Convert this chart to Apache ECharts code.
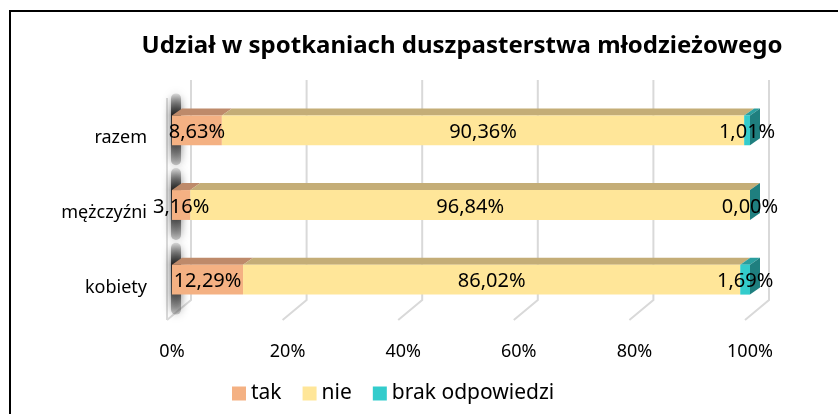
<!DOCTYPE html>
<html>
<head>
<meta charset="utf-8">
<script src="https://cdn.jsdelivr.net/npm/echarts@6/dist/echarts.min.js"></script>
<style>
  html, body { margin: 0; padding: 0; background: #fff; }
  #chart { width: 838px; height: 414px; }
</style>
</head>
<body>
<div id="chart"></div>
<script>
// categories, bottom to top
const categories = ['kobiety', 'mężczyźni', 'razem'];
const tak = [12.29, 3.16, 8.63];
const nie = [86.02, 96.84, 90.36];
const brak = [1.69, 0.00, 1.01];
const xTicks = [0, 20, 40, 60, 80, 100];

const FONT = '"Noto Sans", sans-serif';
const DX = 10, DY = 7; // 3d depth

const chart = echarts.init(document.getElementById('chart'), null, { renderer: 'canvas' });

const fmt = v => v.toFixed(2).replace('.', ',') + '%';

// segment data: [start, value, categoryIndex]
const seg = (vals, prev) => vals.map((v, i) => [prev.reduce((s, a) => s + a[i], 0), v, i]);
const takData = seg(tak, []);
const nieData = seg(nie, [tak]);
const brakData = seg(brak, [tak, nie]);

function barRender(front, top, side) {
  return function (params, api) {
    const start = api.value(0), val = api.value(1), cat = api.value(2);
    const p0 = api.coord([start, cat]);
    const p1 = api.coord([start + val, cat]);
    const h = api.size([0, 1])[1] * 0.4;
    const x0 = p0[0], x1 = p1[0], y0 = p0[1] - h / 2;
    const children = [
      { type: 'polygon', shape: { points: [[x0, y0], [x1, y0], [x1 + DX, y0 - DY], [x0 + DX, y0 - DY]] }, style: { fill: top } },
      { type: 'rect', shape: { x: x0, y: y0, width: x1 - x0, height: h }, style: { fill: front } }
    ];
    if (side) {
      children.push({ type: 'polygon', shape: { points: [[x1, y0], [x1 + DX, y0 - DY], [x1 + DX, y0 - DY + h], [x1, y0 + h]] }, style: { fill: side } });
    }
    return { type: 'group', children };
  };
}

function labelRender(params, api) {
  const start = api.value(0), val = api.value(1), cat = api.value(2);
  const p = api.coord([start + val / 2, cat]);
  return {
    type: 'text',
    style: { x: p[0], y: p[1] + 2, text: fmt(val), fill: '#000', font: '20px ' + FONT, align: 'center', verticalAlign: 'middle' }
  };
}

function gridRender(params, api) {
  const cs = params.coordSys;
  const x = api.coord([api.value(0), 0])[0];
  const top = cs.y - 13, bot = cs.y + cs.height - 17, floor = cs.y + cs.height + 3;
  const bx = x + 19, fx = x - 5;
  const children = [
    { type: 'polyline', shape: { points: [[bx, top], [bx, bot], [fx, floor]] }, style: { stroke: '#D9D9D9', lineWidth: 2, fill: null } }
  ];
  if (api.value(0) === 0) {
    children.push({ type: 'line', shape: { x1: fx, y1: top + 18, x2: fx, y2: floor }, style: { stroke: '#D9D9D9', lineWidth: 2 } });
  }
  return { type: 'group', children };
}

function shadowRender(params, api) {
  const p = api.coord([0, api.value(0)]);
  const h = api.size([0, 1])[1] * 0.4;
  return {
    type: 'rect',
    shape: { x: p[0] - 1, y: p[1] - h / 2 - 22, width: 10, height: h + 42, r: 5 },
    style: {
      fill: new echarts.graphic.LinearGradient(0, 0, 0, 1, [
        { offset: 0, color: 'rgba(60,60,60,0.15)' },
        { offset: 0.3, color: 'rgba(30,30,30,0.95)' },
        { offset: 0.7, color: 'rgba(50,50,50,0.8)' },
        { offset: 1, color: 'rgba(90,90,90,0.3)' }
      ]),
      shadowBlur: 8, shadowColor: 'rgba(0,0,0,0.7)'
    }
  };
}

const option = {
  animation: false,
  textStyle: { fontFamily: FONT },
  title: {
    text: 'Udział w spotkaniach duszpasterstwa młodzieżowego',
    left: 457, top: 29, textAlign: 'center',
    textStyle: { fontSize: 24, fontWeight: 'bold', color: '#000', fontFamily: FONT }
  },
  graphic: [
    { type: 'rect', shape: { x: 10, y: 11, width: 900, height: 900 }, style: { fill: null, stroke: '#000', lineWidth: 2 }, z: 100 }
  ],
  legend: {
    left: 227, top: 378,
    itemWidth: 14, itemHeight: 14, itemGap: 21,
    icon: 'rect',
    data: ['tak', 'nie', 'brak odpowiedzi'],
    textStyle: { fontSize: 21, color: '#000', fontFamily: FONT }
  },
  grid: { left: 172, right: 88, top: 93, bottom: 97 },
  xAxis: {
    type: 'value', min: 0, max: 100, interval: 20,
    axisLine: { show: false }, axisTick: { show: false }, splitLine: { show: false },
    axisLabel: { margin: 26, fontSize: 18, color: '#000', formatter: '{value}%', fontFamily: FONT }
  },
  yAxis: {
    type: 'category', data: categories,
    axisLine: { show: false }, axisTick: { show: false },
    axisLabel: { margin: 25, fontSize: 18, color: '#000', verticalAlign: 'top', lineHeight: 16, fontFamily: FONT }
  },
  series: [
    { type: 'custom', name: 'grid', silent: true, z: 1, data: xTicks.map(v => [v]), renderItem: gridRender },
    { type: 'custom', name: 'shadow', silent: true, z: 2, data: categories.map((c, i) => [i]), renderItem: shadowRender },
    { type: 'custom', name: 'tak', z: 3, itemStyle: { color: '#F4B183' }, data: takData, renderItem: barRender('#F4B183', '#BE8A6A') },
    { type: 'custom', name: 'nie', z: 3, itemStyle: { color: '#FFE699' }, data: nieData, renderItem: barRender('#FFE699', '#C4AD77') },
    { type: 'custom', name: 'brak odpowiedzi', z: 3, itemStyle: { color: '#33CCCC' }, data: brakData, renderItem: barRender('#33CCCC', '#2A9E9E', '#1F7F7F') },
    { type: 'custom', name: 'labels', silent: true, z: 10, data: takData.concat(nieData, brakData), renderItem: labelRender }
  ]
};

chart.setOption(option);
</script>
</body>
</html>
